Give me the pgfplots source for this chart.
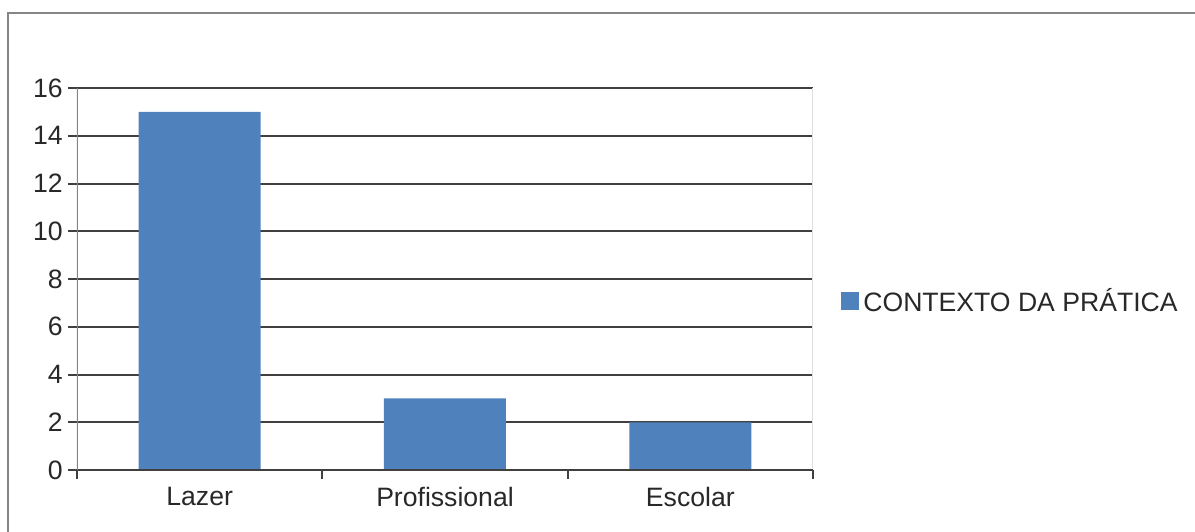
\documentclass[border=0pt]{standalone}
\usepackage{fontspec}
\setmainfont{Liberation Sans}
\usepackage{pgfplots}
\pgfplotsset{compat=1.18}
\definecolor{barblue}{RGB}{79,129,189}
\definecolor{gridc}{RGB}{64,64,64}
\definecolor{framec}{RGB}{134,134,134}
\definecolor{textc}{RGB}{40,40,40}

\begin{document}
\begin{tikzpicture}
\path[use as bounding box] (0,0) rectangle (597.5pt,265.5pt);
% outer chart frame (runs off the right and bottom edges)
\draw[framec, line width=1pt] (4pt,-2pt) -- (4pt,259pt) -- (600pt,259pt);
\begin{axis}[
    at={(38.5pt,30.5pt)}, anchor=south west,
    width=368pt, height=191pt, scale only axis,
    xmin=-0.5, xmax=2.5,
    ymin=0, ymax=16,
    ytick={0,2,...,16},
    xtick={-0.5,0.5,1.5,2.5},
    xticklabels={},
    extra x ticks={0,1,2},
    extra x tick labels={Lazer,Profissional,Escolar},
    extra x tick style={major tick length=0pt, grid=none},
    xtick pos=bottom, ytick pos=left,
    tick align=outside,
    major tick length=4.5pt,
    tick style={gridc, line width=1pt},
    ymajorgrids,
    major grid style={gridc, line width=1pt},
    axis line style={draw=none},
    tick label style={font=\fontsize{13.3}{15}\selectfont, text=textc},
    /pgf/number format/assume math mode=true,
    yticklabel style={inner sep=2.5pt},
    xticklabel style={inner sep=0pt, yshift=-8.5pt},
    legend style={at={(1.038,0.442)}, anchor=west, draw=none, fill=none,
        font=\fontsize{13.3}{15}\selectfont, text=textc, inner sep=0pt,
        cells={anchor=west}},
    legend image code/.code={\fill[barblue] (0pt,-4.5pt) rectangle (9pt,4.5pt);},
]
\addplot[ybar, bar width=61pt, fill=barblue, draw=none]
    coordinates {(0,15) (1,3) (2,2)};
\addlegendentry{CONTEXTO DA PRÁTICA}
% axis border lines as in the reference
\draw[gray!25, line width=0.5pt] (rel axis cs:1,0) -- (rel axis cs:1,1);
\draw[gridc, line width=1pt] (rel axis cs:0,0) -- (rel axis cs:1,0);
\draw[framec, line width=1pt] (rel axis cs:0,0) -- (rel axis cs:0,1);
\end{axis}
\end{tikzpicture}
\end{document}
